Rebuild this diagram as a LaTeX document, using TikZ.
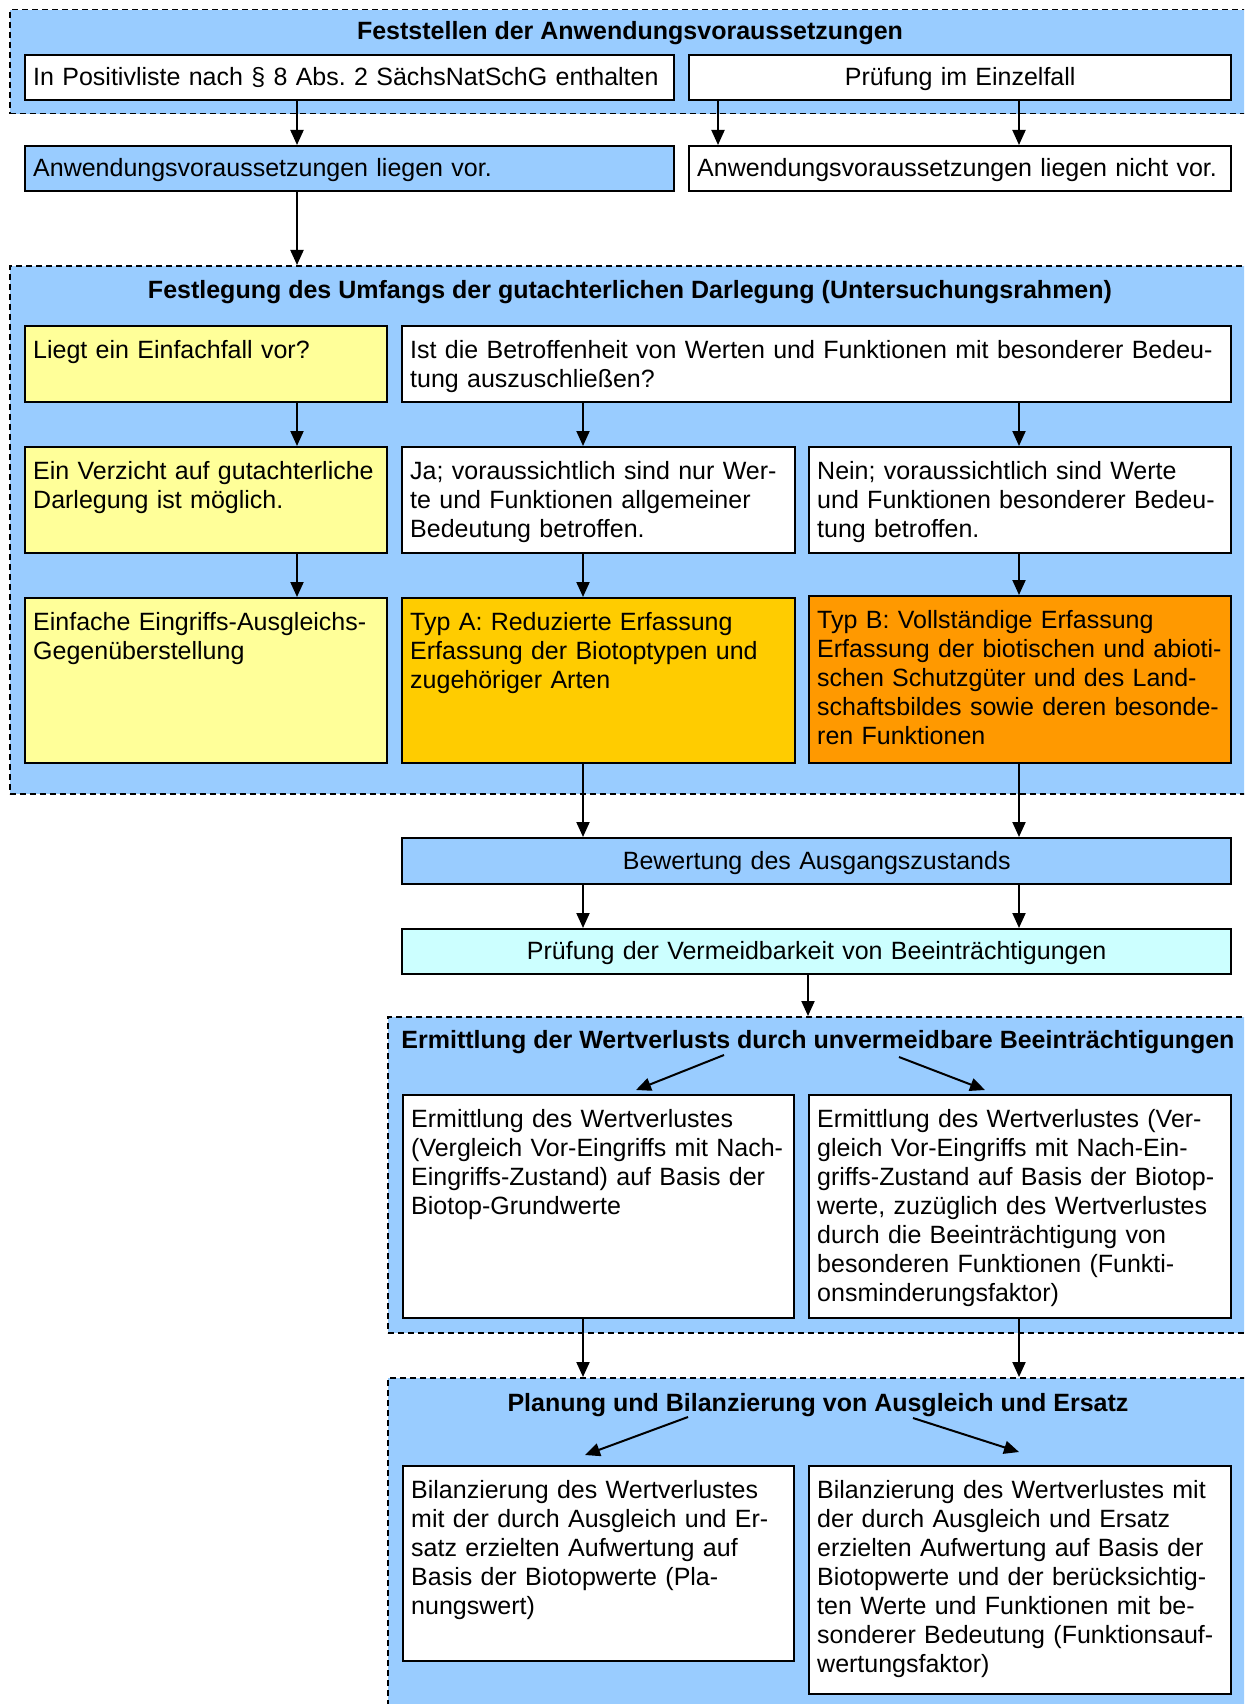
\documentclass[tikz,border=0pt]{standalone}
\usepackage{fontspec}
\setmainfont{Liberation Sans}
\usetikzlibrary{arrows.meta}
\frenchspacing
\definecolor{grpblue}{HTML}{99CCFF}
\definecolor{paleyellow}{HTML}{FFFF99}
\definecolor{typagold}{HTML}{FFCC00}
\definecolor{typborange}{HTML}{FF9900}
\definecolor{palecyan}{HTML}{CCFFFF}
\newcommand{\cellfont}{\fontsize{25}{29}\selectfont\hyphenpenalty=10000 \exhyphenpenalty=10000 }
\newcommand{\jl}[1]{\makebox[\linewidth][s]{#1}}
\tikzstyle{group}=[
      rectangle,
      anchor = north west,
      inner sep = 0pt,
      draw = black,
      line width = 1.5pt,
      dash pattern = on 6pt off 4pt,
      fill = grpblue
      ]
\tikzstyle{head}=[
      anchor = base,
      inner sep = 0pt,
      font = \bfseries\fontsize{25}{29}\selectfont
      ]
\tikzstyle{cell}=[
      rectangle,
      anchor = north west,
      draw = black,
      line width = 2.4pt,
      fill = white,
      inner xsep = 8pt,
      inner ysep = 0pt,
      text height = 32pt,
      align = left,
      font = \cellfont
      ]
\tikzstyle{bar}=[
      cell,
      minimum height = 45pt,
      text height = 19pt,
      text depth = 3pt
      ]
\tikzstyle{arr}=[
      line width = 2pt,
      -{Triangle[length=15pt,width=13pt]}
      ]

\begin{document}
\begin{tikzpicture}[x=1pt,y=-1pt]
\useasboundingbox (0,0) rectangle (1244,1704);
\clip (0,0) rectangle (1244,1704);
\fill[white] (0,0) rectangle (1244,1704);

% dashed frames
\node[group, minimum width=1242pt, minimum height=104pt] (g1) at (9,9) {};
\node[group, minimum width=1242pt, minimum height=528pt] (g2) at (9,265) {};
\node[group, minimum width=864pt, minimum height=316pt] (g3) at (387,1016) {};
\node[group, minimum width=864pt, minimum height=420pt] (g4) at (387,1377) {};

\node[head] (t1) at (630,40) {Feststellen der Anwendungsvoraussetzungen};
\node[head] (t2) at (630,298) {Festlegung des Umfangs der gutachterlichen Darlegung (Untersuchungsrahmen)};
\node[head] (t3) at (818,1048) {Ermittlung der Wertverlusts durch unvermeidbare Beeinträchtigungen};
\node[head] (t4) at (818,1411) {Planung und Bilanzierung von Ausgleich und Ersatz};

% first step
\node[bar, text width=633pt] (posl) at (24,54) {In Positivliste nach § 8 Abs. 2 SächsNatSchG enthalten};
\node[bar, text width=526pt, align=center] (einz) at (688,54) {Prüfung im Einzelfall};
\node[bar, fill=grpblue, text width=633pt] (vor) at (24,145) {Anwendungsvoraussetzungen liegen vor.};
\node[bar, text width=526pt] (nvor) at (688,145) {Anwendungsvoraussetzungen liegen nicht vor.};

% scope of the report
\node[cell, fill=paleyellow, text width=346pt, text depth=44pt] (einfach) at (24,325) {Liegt ein Einfachfall vor?};
\node[cell, text width=813pt, text depth=44pt] (betr) at (401,325) {Ist die Betroffenheit von Werten und Funktionen mit besonderer Bedeu-\\tung auszuschließen?};
\node[cell, fill=paleyellow, text width=346pt, text depth=74pt] (verz) at (24,446) {Ein Verzicht auf gutachterliche\\Darlegung ist möglich.};
\node[cell, text width=377pt, text depth=74pt] (ja) at (401,446) {Ja; voraussichtlich sind nur Wer-\\te und Funktionen allgemeiner\\Bedeutung betroffen.};
\node[cell, text width=406pt, text depth=74pt] (nein) at (808,446) {Nein; voraussichtlich sind Werte\\und Funktionen besonderer Bedeu-\\tung betroffen.};
\node[cell, fill=paleyellow, text width=346pt, text depth=133pt] (einf) at (24,597) {Einfache Eingriffs-Ausgleichs-\\Gegenüberstellung};
\node[cell, fill=typagold, text width=377pt, text depth=133pt] (typa) at (401,597) {Typ A: Reduzierte Erfassung\\Erfassung der Biotoptypen und\\zugehöriger Arten};
\node[cell, fill=typborange, text width=406pt, text depth=135pt] (typb) at (808,595) {Typ B: Vollständige Erfassung\\\jl{Erfassung der biotischen und abioti-}\\\jl{schen Schutzgüter und des Land-}\\\jl{schaftsbildes sowie deren besonde-}\\ren Funktionen};

\node[bar, fill=grpblue, text width=813pt, minimum height=46pt, align=center] (bew) at (401,837) {Bewertung des Ausgangszustands};
\node[bar, fill=palecyan, text width=813pt, align=center] (verm) at (401,928) {Prüfung der Vermeidbarkeit von Beeinträchtigungen};

% loss of value
\node[cell, text width=375pt, text depth=191pt] (erm1) at (402,1094) {Ermittlung des Wertverlustes\\(Vergleich Vor-Eingriffs mit Nach-\\Eingriffs-Zustand) auf Basis der\\Biotop-Grundwerte};
\node[cell, text width=406pt, text depth=191pt] (erm2) at (808,1094) {\jl{Ermittlung des Wertverlustes (Ver-}\\\jl{gleich Vor-Eingriffs mit Nach-Ein-}\\\jl{griffs-Zustand auf Basis der Biotop-}\\\jl{werte, zuzüglich des Wertverlustes}\\\jl{durch die Beeinträchtigung von}\\\jl{besonderen Funktionen (Funkti-}\\onsminderungsfaktor)};

% compensation
\node[cell, text width=375pt, text depth=163pt] (bil1) at (402,1465) {Bilanzierung des Wertverlustes\\mit der durch Ausgleich und Er-\\satz erzielten Aufwertung auf\\Basis der Biotopwerte (Pla-\\nungswert)};
\node[cell, text width=406pt, text depth=196pt] (bil2) at (808,1465) {Bilanzierung des Wertverlustes mit\\der durch Ausgleich und Ersatz\\erzielten Aufwertung auf Basis der\\Biotopwerte und der berücksichtig-\\ten Werte und Funktionen mit be-\\sonderer Bedeutung (Funktionsauf-\\wertungsfaktor)};

% columns for the arrows
\coordinate (cL) at (297,0);
\coordinate (cM) at (583,0);
\coordinate (cQ) at (718,0);
\coordinate (cP) at (808,0);
\coordinate (cR) at (1019,0);
\coordinate (d1a) at (724,1055);
\coordinate (d1b) at (636,1090);
\coordinate (d2a) at (899,1057);
\coordinate (d2b) at (985,1090);
\coordinate (d3a) at (688,1417);
\coordinate (d3b) at (585,1455);
\coordinate (d4a) at (913,1418);
\coordinate (d4b) at (1019,1452);

\draw[arr] (posl.south -| cL) -- (vor.north -| cL);
\draw[arr] (einz.south -| cQ) -- (nvor.north -| cQ);
\draw[arr] (einz.south -| cR) -- (nvor.north -| cR);
\draw[arr] (vor.south -| cL) -- (g2.north -| cL);

\draw[arr] (einfach.south -| cL) -- (verz.north -| cL);
\draw[arr] (betr.south -| cM) -- (ja.north -| cM);
\draw[arr] (betr.south -| cR) -- (nein.north -| cR);
\draw[arr] (verz.south -| cL) -- (einf.north -| cL);
\draw[arr] (ja.south -| cM) -- (typa.north -| cM);
\draw[arr] (nein.south -| cR) -- (typb.north -| cR);

\draw[arr] (typa.south -| cM) -- (bew.north -| cM);
\draw[arr] (typb.south -| cR) -- (bew.north -| cR);
\draw[arr] (bew.south -| cM) -- (verm.north -| cM);
\draw[arr] (bew.south -| cR) -- (verm.north -| cR);
\draw[arr] (verm.south -| cP) -- (g3.north -| cP);

\draw[arr] (d1a) -- (d1b);
\draw[arr] (d2a) -- (d2b);
\draw[arr] (erm1.south -| cM) -- (g4.north -| cM);
\draw[arr] (erm2.south -| cR) -- (g4.north -| cR);
\draw[arr] (d3a) -- (d3b);
\draw[arr] (d4a) -- (d4b);
\end{tikzpicture}
\end{document}
